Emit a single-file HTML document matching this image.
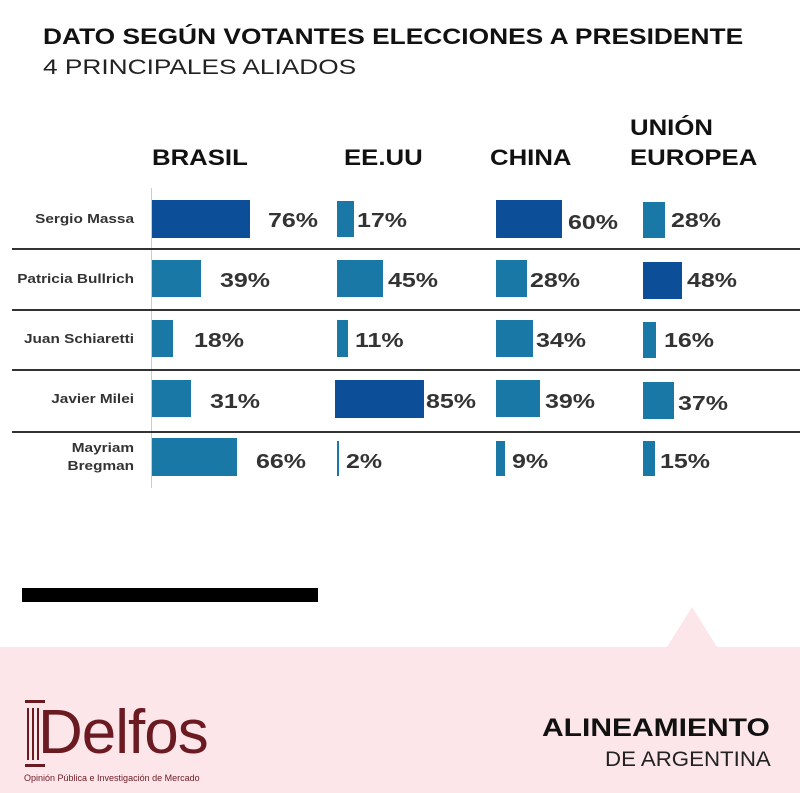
<!DOCTYPE html>
<html><head><meta charset="utf-8"><style>
body{margin:0;width:800px;height:793px;position:relative;background:#fff;font-family:"Liberation Sans",sans-serif;overflow:hidden}
.a{position:absolute;white-space:nowrap;transform-origin:left center}
.h{font-weight:bold;font-size:22px;color:#111;transform:scaleX(1.17)}
.n{font-size:13px;font-weight:bold;color:#333;text-align:right;width:122px;left:12px;line-height:18px;transform-origin:right center;transform:scaleX(1.18)}
.b{position:absolute}
.d{background:#0c4f98}.l{background:#1a78a6}
.p{font-weight:bold;font-size:20px;color:#333;transform:scaleX(1.25)}
.ln{position:absolute;left:12px;width:788px;height:2px;background:#333}
</style></head><body>
<div class="a" style="left:43px;top:24px;font-weight:bold;font-size:22.5px;color:#111;transform:scaleX(1.17)">DATO SEGÚN VOTANTES ELECCIONES A PRESIDENTE</div>
<div class="a" style="left:43px;top:56px;font-size:21px;color:#222;transform:scaleX(1.25)">4 PRINCIPALES ALIADOS</div>
<div class="a h" style="left:152px;top:145px">BRASIL</div>
<div class="a h" style="left:344px;top:145px">EE.UU</div>
<div class="a h" style="left:490px;top:145px">CHINA</div>
<div class="a h" style="left:630px;top:115px">UNIÓN</div>
<div class="a h" style="left:630px;top:145px">EUROPEA</div>
<div class="b" style="left:151px;top:188px;width:1px;height:300px;background:#ccc"></div>
<div class="ln" style="top:248px"></div><div class="ln" style="top:309px"></div><div class="ln" style="top:369px"></div><div class="ln" style="top:431px"></div>
<div class="a n" style="top:210px">Sergio Massa</div>
<div class="a n" style="top:270px">Patricia Bullrich</div>
<div class="a n" style="top:330px">Juan Schiaretti</div>
<div class="a n" style="top:390px">Javier Milei</div>
<div class="a n" style="top:439px">Mayriam<br>Bregman</div>
<!-- Brasil -->
<div class="b d" style="left:152px;top:200px;width:98px;height:38px"></div><div class="a p" style="left:268px;top:210px">76%</div>
<div class="b l" style="left:152px;top:260px;width:49px;height:37px"></div><div class="a p" style="left:220px;top:270px">39%</div>
<div class="b l" style="left:152px;top:320px;width:21px;height:37px"></div><div class="a p" style="left:194px;top:330px">18%</div>
<div class="b l" style="left:152px;top:380px;width:39px;height:37px"></div><div class="a p" style="left:210px;top:391px">31%</div>
<div class="b l" style="left:152px;top:438px;width:85px;height:38px"></div><div class="a p" style="left:256px;top:451px">66%</div>
<!-- EEUU -->
<div class="b l" style="left:337px;top:201px;width:17px;height:36px"></div><div class="a p" style="left:357px;top:210px">17%</div>
<div class="b l" style="left:337px;top:260px;width:46px;height:37px"></div><div class="a p" style="left:388px;top:270px">45%</div>
<div class="b l" style="left:337px;top:320px;width:11px;height:37px"></div><div class="a p" style="left:355px;top:330px">11%</div>
<div class="b d" style="left:335px;top:380px;width:89px;height:38px"></div><div class="a p" style="left:426px;top:391px">85%</div>
<div class="b l" style="left:337px;top:441px;width:2px;height:35px"></div><div class="a p" style="left:346px;top:451px">2%</div>
<!-- China -->
<div class="b d" style="left:496px;top:200px;width:66px;height:38px"></div><div class="a p" style="left:568px;top:212px">60%</div>
<div class="b l" style="left:496px;top:260px;width:31px;height:37px"></div><div class="a p" style="left:530px;top:270px">28%</div>
<div class="b l" style="left:496px;top:320px;width:37px;height:37px"></div><div class="a p" style="left:536px;top:330px">34%</div>
<div class="b l" style="left:496px;top:380px;width:44px;height:37px"></div><div class="a p" style="left:545px;top:391px">39%</div>
<div class="b l" style="left:496px;top:441px;width:9px;height:35px"></div><div class="a p" style="left:512px;top:451px">9%</div>
<!-- UE -->
<div class="b l" style="left:643px;top:202px;width:22px;height:36px"></div><div class="a p" style="left:671px;top:210px">28%</div>
<div class="b d" style="left:643px;top:262px;width:39px;height:37px"></div><div class="a p" style="left:687px;top:270px">48%</div>
<div class="b l" style="left:643px;top:322px;width:13px;height:36px"></div><div class="a p" style="left:664px;top:330px">16%</div>
<div class="b l" style="left:643px;top:382px;width:31px;height:37px"></div><div class="a p" style="left:678px;top:393px">37%</div>
<div class="b l" style="left:643px;top:441px;width:12px;height:35px"></div><div class="a p" style="left:660px;top:451px">15%</div>
<div class="b" style="left:22px;top:588px;width:296px;height:14px;background:#000"></div>
<div class="b" style="left:0;top:647px;width:800px;height:146px;background:#fce6ea"></div>
<div class="b" style="left:667px;top:607px;width:0;height:0;border-left:25px solid transparent;border-right:25px solid transparent;border-bottom:40px solid #fce6ea"></div>
<div class="b" style="left:25px;top:700px;width:20px;height:3px;background:#6b1a22"></div>
<div class="b" style="left:25px;top:764px;width:20px;height:3px;background:#6b1a22"></div>
<div class="b" style="left:27px;top:708px;width:2px;height:52px;background:#6b1a22"></div>
<div class="b" style="left:32px;top:708px;width:2px;height:52px;background:#6b1a22"></div>
<div class="b" style="left:37px;top:708px;width:2px;height:52px;background:#6b1a22"></div>
<div class="a" style="left:38px;top:693px;font-size:62px;color:#6b1a22;letter-spacing:-1px;line-height:80px">Delfos</div>
<div class="a" style="left:24px;top:773px;font-size:9px;color:#6b1a22">Opinión Pública e Investigación de Mercado</div>
<div class="a" style="left:542px;top:714px;font-weight:bold;font-size:25px;color:#111;transform:scaleX(1.2)">ALINEAMIENTO</div>
<div class="a" style="left:605px;top:748px;font-size:21px;color:#222;transform:scaleX(1.06)">DE ARGENTINA</div>
</body></html>
